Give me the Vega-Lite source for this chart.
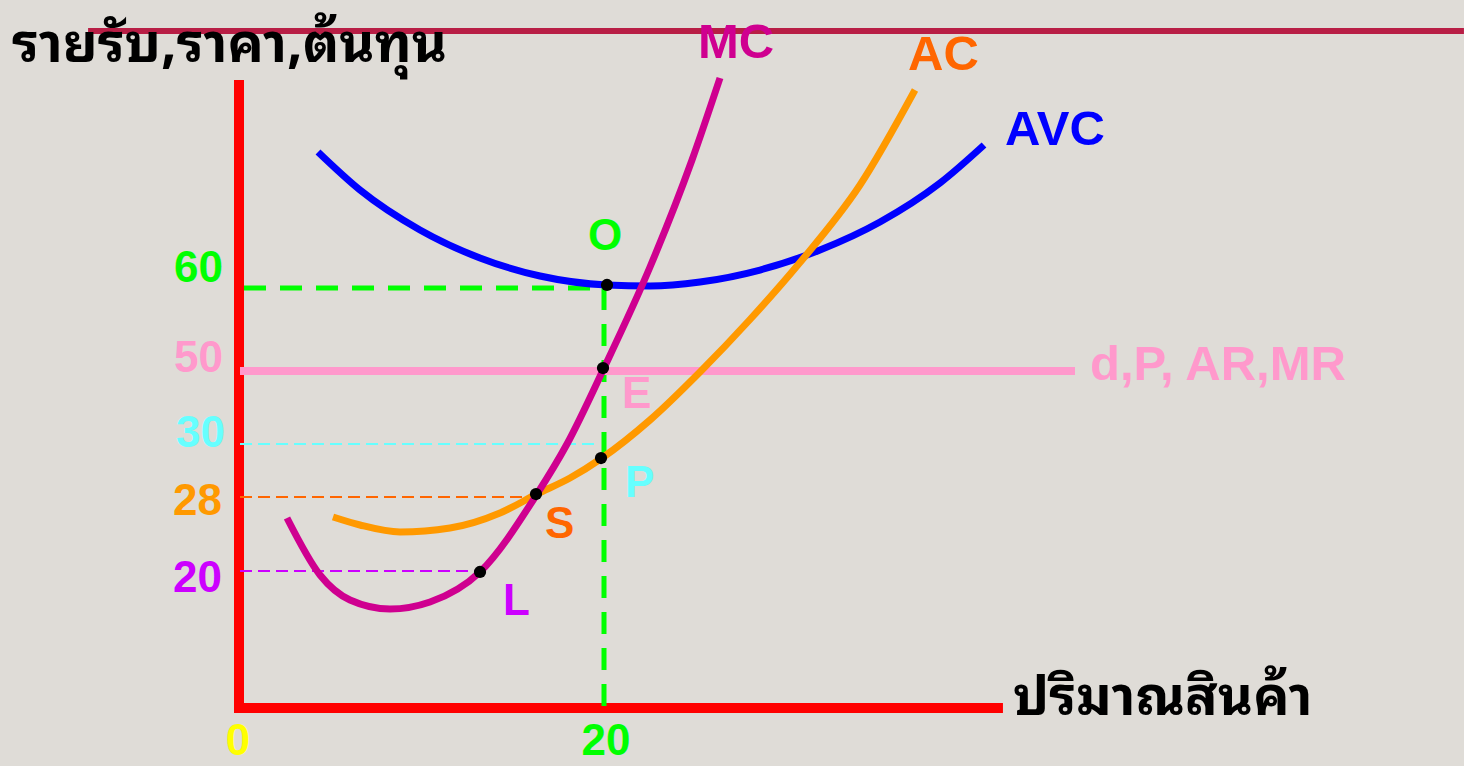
{
  "$schema": "https://vega.github.io/schema/vega-lite/v6.json",
  "width": 1464,
  "height": 766,
  "autosize": "none",
  "padding": 0,
  "background": "#dfdcd7",
  "config": {"view": {"stroke": null}},
  "datasets": {
    "segs": [
      {"seg": "y axis", "tone": "axis", "x": 0, "x2": 0, "y": -0.714, "y2": 89.71},
      {"seg": "x axis", "tone": "axis", "x": -0.274, "x2": 41.86, "y": 0, "y2": 0},
      {"seg": "rim", "tone": "rim", "x": -8.27, "x2": 67.12, "y": 96.71, "y2": 96.71},
      {"seg": "demand", "tone": "demand", "x": 0.055, "x2": 45.808, "y": 48.14, "y2": 48.14},
      {"seg": "guide60", "tone": "green", "x": 0.274, "x2": 20.0, "y": 60.0, "y2": 60.0},
      {"seg": "guide60", "tone": "green", "x": 20.0, "x2": 20.0, "y": 60.0, "y2": -0.57},
      {"seg": "thin", "tone": "cyan", "x": 0.055, "x2": 19.78, "y": 37.71, "y2": 37.71},
      {"seg": "thin", "tone": "orange", "x": 0.055, "x2": 16.22, "y": 30.14, "y2": 30.14},
      {"seg": "thin", "tone": "purple", "x": 0.055, "x2": 13.2, "y": 19.57, "y2": 19.57}
    ],
    "curves": [
      {"curve": "AVC", "x": 4.329, "y": 79.43},
      {"curve": "AVC", "x": 6.63, "y": 74.0},
      {"curve": "AVC", "x": 9.918, "y": 68.29},
      {"curve": "AVC", "x": 13.205, "y": 64.29},
      {"curve": "AVC", "x": 16.493, "y": 61.71},
      {"curve": "AVC", "x": 20.164, "y": 60.43},
      {"curve": "AVC", "x": 22.521, "y": 60.29},
      {"curve": "AVC", "x": 25.26, "y": 60.86},
      {"curve": "AVC", "x": 28.548, "y": 62.57},
      {"curve": "AVC", "x": 31.836, "y": 65.43},
      {"curve": "AVC", "x": 35.123, "y": 69.43},
      {"curve": "AVC", "x": 38.411, "y": 75.0},
      {"curve": "AVC", "x": 40.822, "y": 80.43},
      {"curve": "AC", "x": 5.151, "y": 27.286},
      {"curve": "AC", "x": 6.63, "y": 26.14},
      {"curve": "AC", "x": 8.822, "y": 25.14},
      {"curve": "AC", "x": 11.562, "y": 25.71},
      {"curve": "AC", "x": 14.301, "y": 27.857},
      {"curve": "AC", "x": 16.329, "y": 30.571},
      {"curve": "AC", "x": 18.137, "y": 32.857},
      {"curve": "AC", "x": 19.89, "y": 35.714},
      {"curve": "AC", "x": 22.521, "y": 41.143},
      {"curve": "AC", "x": 25.26, "y": 48.0},
      {"curve": "AC", "x": 27.973, "y": 55.429},
      {"curve": "AC", "x": 30.712, "y": 63.571},
      {"curve": "AC", "x": 34.027, "y": 74.714},
      {"curve": "AC", "x": 37.041, "y": 88.286},
      {"curve": "MC", "x": 2.63, "y": 27.14},
      {"curve": "MC", "x": 4.438, "y": 19.0},
      {"curve": "MC", "x": 6.082, "y": 15.43},
      {"curve": "MC", "x": 8.274, "y": 14.14},
      {"curve": "MC", "x": 10.466, "y": 15.14},
      {"curve": "MC", "x": 13.205, "y": 19.43},
      {"curve": "MC", "x": 16.329, "y": 30.57},
      {"curve": "MC", "x": 17.973, "y": 37.71},
      {"curve": "MC", "x": 20.0, "y": 48.57},
      {"curve": "MC", "x": 22.521, "y": 63.0},
      {"curve": "MC", "x": 24.822, "y": 78.29},
      {"curve": "MC", "x": 26.356, "y": 90.0}
    ],
    "dots": [
      {"point": "O", "x": 20.164, "y": 60.43},
      {"point": "E", "x": 19.945, "y": 48.57},
      {"point": "P", "x": 19.836, "y": 35.71},
      {"point": "S", "x": 16.274, "y": 30.57},
      {"point": "L", "x": 13.205, "y": 19.43}
    ],
    "labels": [
      {"group": "thai", "text": "รายรับ,ราคา,ต้นทุน", "tone": "black", "x": -12.438, "y": 92.29},
      {"group": "thai", "text": "ปริมาณสินค้า", "tone": "black", "x": 42.411, "y": -1.0},
      {"group": "curve", "text": "MC", "tone": "MC", "x": 25.151, "y": 92.86},
      {"group": "curve", "text": "AC", "tone": "orange", "x": 36.658, "y": 91.14},
      {"group": "curve", "text": "AVC", "tone": "AVC", "x": 41.973, "y": 80.43},
      {"group": "curve", "text": "d,P, AR,MR", "tone": "demand", "x": 46.63, "y": 46.86},
      {"group": "point", "text": "E", "tone": "demand", "x": 20.986, "y": 42.86},
      {"group": "point", "text": "P", "tone": "cyan", "x": 21.151, "y": 30.14},
      {"group": "point", "text": "S", "tone": "orange", "x": 16.767, "y": 24.29},
      {"group": "point", "text": "L", "tone": "purple", "x": 14.466, "y": 13.29},
      {"group": "top", "text": "O", "tone": "green", "x": 20.055, "y": 65.43},
      {"group": "ytick", "text": "60", "tone": "green", "x": -0.877, "y": 60.86},
      {"group": "ytick", "text": "50", "tone": "demand", "x": -0.877, "y": 48.0},
      {"group": "ytick", "text": "30", "tone": "cyan", "x": -0.767, "y": 37.29},
      {"group": "ytick", "text": "28", "tone": "AC", "x": -0.932, "y": 27.57},
      {"group": "ytick", "text": "20", "tone": "purple", "x": -0.932, "y": 16.57},
      {"group": "xtick", "text": "0", "tone": "yellow", "x": -0.055, "y": -8.0},
      {"group": "xtick", "text": "20", "tone": "green", "x": 20.11, "y": -8.0}
    ]
  },
  "encoding": {
    "x": {"field": "x", "type": "quantitative", "axis": null, "scale": {"domain": [-13.096, 67.123], "nice": false, "zero": false}},
    "y": {"field": "y", "type": "quantitative", "axis": null, "scale": {"domain": [-8.286, 101.143], "nice": false, "zero": false}},
    "color": {
      "field": "tone", "type": "nominal", "legend": null,
      "scale": {
        "domain": ["AVC", "MC", "AC", "axis", "rim", "demand", "green", "cyan", "orange", "purple", "black", "yellow"],
        "range": ["#0000ff", "#cf0090", "#ff9900", "#ff0000", "#b81e45", "#ff99cc", "#00ff00", "#66ffff", "#ff6600", "#cc00ff", "#000000", "#ffff00"]
      }
    }
  },
  "layer": [
    {
      "data": {"name": "segs"},
      "transform": [{"filter": "datum.seg === 'rim'"}],
      "mark": {"type": "rule", "strokeWidth": 6},
      "encoding": {"x2": {"field": "x2"}, "y2": {"field": "y2"}}
    },
    {
      "data": {"name": "segs"},
      "transform": [{"filter": "datum.seg === 'x axis' || datum.seg === 'y axis'"}],
      "mark": {"type": "rule", "strokeWidth": 10},
      "encoding": {"x2": {"field": "x2"}, "y2": {"field": "y2"}}
    },
    {
      "data": {"name": "segs"},
      "transform": [{"filter": "datum.seg === 'thin'"}],
      "mark": {"type": "rule", "strokeWidth": 2, "strokeDash": [12, 6]},
      "encoding": {"x2": {"field": "x2"}, "y2": {"field": "y2"}}
    },
    {
      "data": {"name": "segs"},
      "transform": [{"filter": "datum.seg === 'guide60'"}],
      "mark": {"type": "rule", "strokeWidth": 5, "strokeDash": [22, 14]},
      "encoding": {"x2": {"field": "x2"}, "y2": {"field": "y2"}}
    },
    {
      "data": {"name": "segs"},
      "transform": [{"filter": "datum.seg === 'demand'"}],
      "mark": {"type": "rule", "strokeWidth": 8},
      "encoding": {"x2": {"field": "x2"}, "y2": {"field": "y2"}}
    },
    {
      "data": {"name": "curves"},
      "transform": [{"filter": "datum.curve === 'AVC'"}, {"calculate": "datum.curve", "as": "tone"}],
      "mark": {"type": "line", "strokeWidth": 7, "interpolate": "monotone"},
      "encoding": {}
    },
    {
      "data": {"name": "curves"},
      "transform": [{"filter": "datum.curve === 'AC'"}, {"calculate": "datum.curve", "as": "tone"}],
      "mark": {"type": "line", "strokeWidth": 7, "interpolate": "monotone"},
      "encoding": {}
    },
    {
      "data": {"name": "curves"},
      "transform": [{"filter": "datum.curve === 'MC'"}, {"calculate": "datum.curve", "as": "tone"}],
      "mark": {"type": "line", "strokeWidth": 7, "interpolate": "monotone"},
      "encoding": {}
    },
    {
      "data": {"name": "dots"},
      "mark": {"type": "circle", "size": 150, "opacity": 1},
      "encoding": {"color": {"value": "#000000"}}
    },
    {
      "data": {"name": "labels"},
      "transform": [{"filter": "datum.group === 'thai'"}],
      "mark": {"type": "text", "align": "left", "baseline": "alphabetic", "font": "Noto Sans Thai Looped, Loma, Tahoma, Noto Sans Thai, sans-serif", "fontWeight": "bold", "fontSize": 54},
      "encoding": {"text": {"field": "text"}}
    },
    {
      "data": {"name": "labels"},
      "transform": [{"filter": "datum.group === 'curve'"}],
      "mark": {"type": "text", "align": "left", "baseline": "alphabetic", "font": "Liberation Sans", "fontWeight": "bold", "fontSize": 49},
      "encoding": {"text": {"field": "text"}}
    },
    {
      "data": {"name": "labels"},
      "transform": [{"filter": "datum.group === 'point'"}],
      "mark": {"type": "text", "align": "left", "baseline": "alphabetic", "font": "Liberation Sans", "fontWeight": "bold", "fontSize": 44},
      "encoding": {"text": {"field": "text"}}
    },
    {
      "data": {"name": "labels"},
      "transform": [{"filter": "datum.group === 'top'"}],
      "mark": {"type": "text", "align": "center", "baseline": "alphabetic", "font": "Liberation Sans", "fontWeight": "bold", "fontSize": 44},
      "encoding": {"text": {"field": "text"}}
    },
    {
      "data": {"name": "labels"},
      "transform": [{"filter": "datum.group === 'xtick'"}],
      "mark": {"type": "text", "align": "center", "baseline": "bottom", "font": "Liberation Sans", "fontWeight": "bold", "fontSize": 44},
      "encoding": {"text": {"field": "text"}}
    },
    {
      "data": {"name": "labels"},
      "transform": [{"filter": "datum.group === 'ytick'"}],
      "mark": {"type": "text", "align": "right", "baseline": "alphabetic", "font": "Liberation Sans", "fontWeight": "bold", "fontSize": 44},
      "encoding": {"text": {"field": "text"}}
    }
  ]
}
